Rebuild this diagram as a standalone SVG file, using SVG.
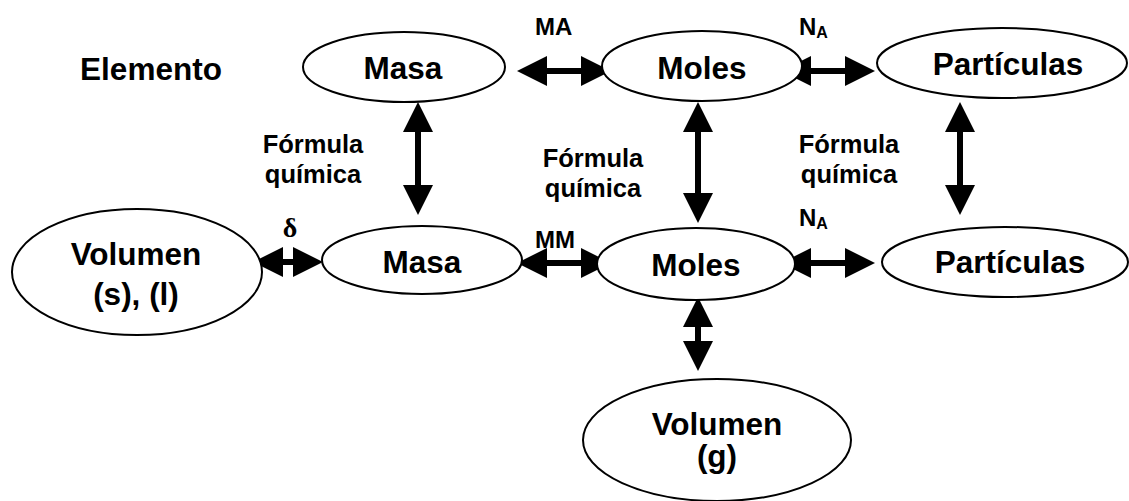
<svg xmlns="http://www.w3.org/2000/svg" width="1129" height="501" viewBox="0 0 1129 501">
<defs>
<style>
.n{fill:#fff;stroke:#000;stroke-width:2}
.t{font-family:"Liberation Sans",Arial,sans-serif;font-weight:bold;font-size:31.5px;fill:#000;text-anchor:middle}
.l{font-family:"Liberation Sans",Arial,sans-serif;font-weight:bold;font-size:25.5px;fill:#000;text-anchor:middle}
.s{font-family:"Liberation Sans",Arial,sans-serif;font-weight:bold;font-size:24px;fill:#000}
.c{stroke:#000;stroke-width:6;fill:none;marker-start:url(#h);marker-end:url(#h)}
</style>
<marker id="h" viewBox="0 0 30 30" refX="0" refY="15" markerWidth="30" markerHeight="30" markerUnits="userSpaceOnUse" orient="auto-start-reverse">
<path d="M0,0 L30,15 L0,30 Z" fill="#000"/>
</marker>
</defs>
<rect width="1129" height="501" fill="#fff"/>
<g id="connectors">
<line class="c" x1="547" y1="71" x2="581" y2="71"/>
<line class="c" x1="811" y1="71" x2="845" y2="71"/>
<line class="c" x1="418" y1="132" x2="418" y2="185"/>
<line class="c" x1="698" y1="132" x2="698" y2="193"/>
<line class="c" x1="960" y1="132" x2="960" y2="185"/>
<line class="c" x1="283" y1="262" x2="293" y2="262"/>
<line class="c" x1="547" y1="263" x2="581" y2="263"/>
<line class="c" x1="811" y1="263" x2="845" y2="263"/>
<line class="c" x1="698" y1="327" x2="698" y2="341"/>
</g>
<g id="labels">
<text class="t" x="151" y="80">Elemento</text>
<text class="s" x="535" y="35">MA</text>
<text class="s" x="799" y="35">N<tspan font-size="16" dy="3">A</tspan></text>
<text class="l" x="313" y="153">Fórmula</text>
<text class="l" x="313" y="183">química</text>
<text class="l" x="593" y="167">Fórmula</text>
<text class="l" x="593" y="197">química</text>
<text class="l" x="849" y="153">Fórmula</text>
<text class="l" x="849" y="183">química</text>
<text x="290" y="237" font-family="'Liberation Serif','Times New Roman',serif" font-weight="bold" font-size="28" text-anchor="middle">δ</text>
<text class="s" x="535" y="248">MM</text>
<text class="s" x="799" y="226">N<tspan font-size="16" dy="3">A</tspan></text>
</g>
<g id="masa1"><ellipse class="n" cx="404" cy="67" rx="101" ry="35"/><text class="t" x="403" y="79">Masa</text></g>
<g id="moles1"><ellipse class="n" cx="702" cy="66" rx="100" ry="35"/><text class="t" x="702" y="79">Moles</text></g>
<g id="particulas1"><ellipse class="n" cx="1002" cy="63" rx="125" ry="35"/><text class="t" x="1008" y="75">Partículas</text></g>
<g id="volumen-sl"><ellipse class="n" cx="137" cy="272" rx="125" ry="63"/><text class="t" x="136" y="265">Volumen</text><text class="t" x="136" y="305">(s), (l)</text></g>
<g id="masa2"><ellipse class="n" cx="422" cy="260" rx="100" ry="34"/><text class="t" x="422" y="273">Masa</text></g>
<g id="moles2"><ellipse class="n" cx="696" cy="264" rx="99" ry="36"/><text class="t" x="696" y="276">Moles</text></g>
<g id="particulas2"><ellipse class="n" cx="1005" cy="262" rx="123" ry="35"/><text class="t" x="1010" y="273">Partículas</text></g>
<g id="volumen-g"><ellipse class="n" cx="717" cy="440" rx="134" ry="61"/><text class="t" x="717" y="435">Volumen</text><text class="t" x="717" y="467">(g)</text></g>
</svg>
